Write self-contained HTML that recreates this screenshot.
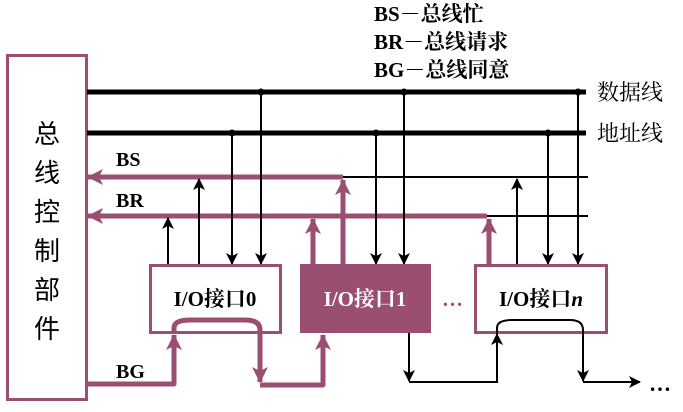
<!DOCTYPE html>
<html><head><meta charset="utf-8"><style>
body{margin:0;background:#fff;width:683px;height:407px;overflow:hidden}
text{font-family:"Liberation Serif","Noto Serif CJK SC",serif}
</style></head><body>
<svg width="683" height="407" viewBox="0 0 683 407" xmlns="http://www.w3.org/2000/svg">
<defs>
<marker id="ab" markerWidth="12" markerHeight="12" refX="11" refY="6" orient="auto" markerUnits="userSpaceOnUse"><path d="M0,0 L12,6 L0,12 L3,6 Z" fill="#000"/></marker>
<marker id="ap" markerWidth="16" markerHeight="16" refX="15" refY="8" orient="auto" markerUnits="userSpaceOnUse"><path d="M0,0 L16,8 L0,16 L4,8 Z" fill="#9a4f72"/></marker>
</defs>
<g font-weight="bold" font-size="21" fill="#000">
<text x="374" y="21">BS－总线忙</text>
<text x="374" y="49">BR－总线请求</text>
<text x="374" y="77">BG－总线同意</text>
</g>
<g font-size="22" fill="#000"><text x="597" y="100">数据线</text><text x="597" y="141">地址线</text></g>
<rect x="7.5" y="55.5" width="79" height="344" fill="#fff" stroke="#9a4f72" stroke-width="3"/>
<g font-size="26" fill="#000" text-anchor="middle" style="font-family:'Noto Sans CJK SC',sans-serif">
<text x="47" y="143" style="font-family:'Noto Sans CJK SC',sans-serif">总</text>
<text x="47" y="182" style="font-family:'Noto Sans CJK SC',sans-serif">线</text>
<text x="47" y="221" style="font-family:'Noto Sans CJK SC',sans-serif">控</text>
<text x="47" y="260" style="font-family:'Noto Sans CJK SC',sans-serif">制</text>
<text x="47" y="299" style="font-family:'Noto Sans CJK SC',sans-serif">部</text>
<text x="47" y="338" style="font-family:'Noto Sans CJK SC',sans-serif">件</text>
</g>
<line x1="87" y1="92" x2="586" y2="92" stroke="#000" stroke-width="5"/>
<line x1="87" y1="133" x2="586" y2="133" stroke="#000" stroke-width="5"/>
<line x1="343" y1="177" x2="588" y2="177" stroke="#000" stroke-width="2"/>
<line x1="485" y1="216" x2="588" y2="216" stroke="#000" stroke-width="2"/>
<g fill="#000"><circle cx="261" cy="92" r="3.5"/><circle cx="404" cy="92" r="3.5"/><circle cx="578" cy="92" r="3.5"/>
<circle cx="232" cy="133" r="3.5"/><circle cx="376" cy="133" r="3.5"/><circle cx="548" cy="133" r="3.5"/></g>
<line x1="343" y1="177" x2="88" y2="177" stroke="#9a4f72" stroke-width="5" marker-end="url(#ap)"/>
<line x1="487" y1="216" x2="88" y2="216" stroke="#9a4f72" stroke-width="5" marker-end="url(#ap)"/>
<text x="116" y="166" font-size="20" font-weight="bold">BS</text>
<text x="116" y="207" font-size="20" font-weight="bold">BR</text>
<g stroke="#000" stroke-width="2">
<line x1="168" y1="265" x2="168" y2="218" marker-end="url(#ab)"/>
<line x1="199" y1="265" x2="199" y2="179" marker-end="url(#ab)"/>
<line x1="232" y1="133" x2="232" y2="264" marker-end="url(#ab)"/>
<line x1="261" y1="92" x2="261" y2="264" marker-end="url(#ab)"/>
<line x1="376" y1="133" x2="376" y2="264" marker-end="url(#ab)"/>
<line x1="404" y1="92" x2="404" y2="264" marker-end="url(#ab)"/>
<line x1="517" y1="265" x2="517" y2="179" marker-end="url(#ab)"/>
<line x1="548" y1="133" x2="548" y2="264" marker-end="url(#ab)"/>
<line x1="578" y1="92" x2="578" y2="264" marker-end="url(#ab)"/>
</g>
<g stroke="#9a4f72" stroke-width="5" fill="none">
<line x1="313" y1="265" x2="313" y2="219" marker-end="url(#ap)"/>
<line x1="343" y1="265" x2="343" y2="180" marker-end="url(#ap)"/>
<line x1="489" y1="265" x2="489" y2="219" marker-end="url(#ap)"/>
</g>
<rect x="150.5" y="265.5" width="130" height="67" fill="#fff" stroke="#9a4f72" stroke-width="3"/>
<rect x="300" y="264" width="131" height="69" fill="#9a4f72"/>
<rect x="475.5" y="265.5" width="131" height="67" fill="#fff" stroke="#9a4f72" stroke-width="3"/>
<g font-size="21" font-weight="bold" text-anchor="middle">
<text x="215" y="306">I/O接口0</text>
<text x="365" y="306" fill="#fff">I/O接口1</text>
<text x="541" y="306">I/O接口<tspan font-style="italic">n</tspan></text>
</g>
<text x="442" y="306" font-size="21" font-weight="bold" fill="#9a4f72">…</text>
<g stroke="#9a4f72" stroke-width="5" fill="none" stroke-linejoin="round">
<path d="M87 384 H174 V335" marker-end="url(#ap)"/>
<path d="M174 334 V328 Q174 320 190 320 H245 Q260 320 260 330 V382" marker-end="url(#ap)"/>
<path d="M260 385 H323 V335" marker-end="url(#ap)"/>
</g>
<text x="116" y="378" font-size="20" font-weight="bold">BG</text>
<g stroke="#000" stroke-width="2" fill="none">
<path d="M409 333 V381" marker-end="url(#ab)"/>
<path d="M409 382 H497 V334" marker-end="url(#ab)"/>
<path d="M497 334 V328 Q497 320 512 320 H570 Q583 320 583 330 V381" marker-end="url(#ab)"/>
<path d="M583 382 H640" marker-end="url(#ab)"/>
</g>
<text x="649" y="391" font-size="22" font-weight="bold">…</text>
</svg>
</body></html>
